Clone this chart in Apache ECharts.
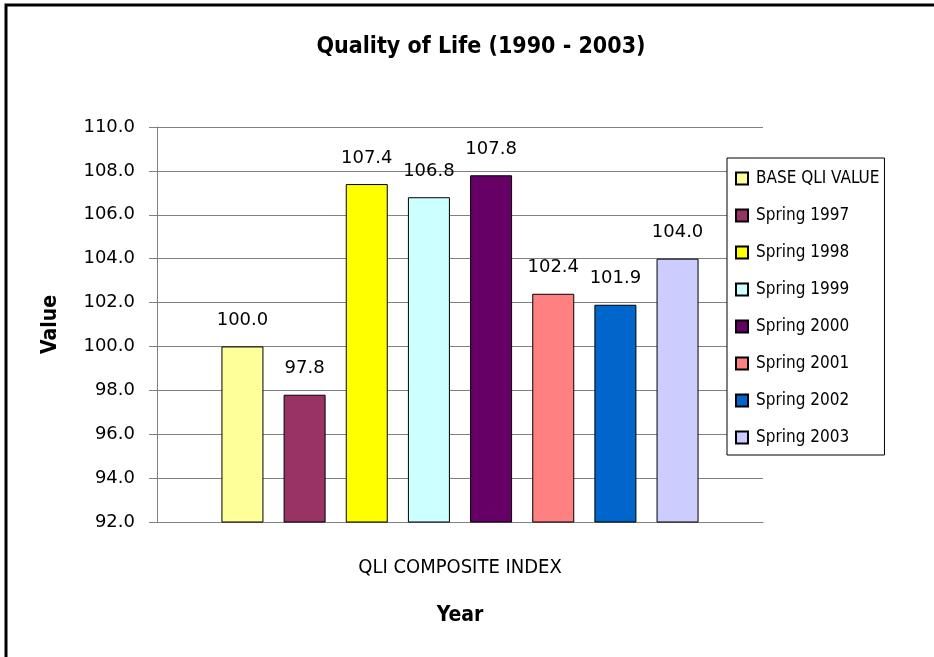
<!DOCTYPE html>
<html><head><meta charset="utf-8">
<script src="https://cdn.jsdelivr.net/npm/echarts@6/dist/echarts.min.js"></script>
<style>html,body{margin:0;padding:0;background:#fff}#c{width:934px;height:657px}</style>
</head><body><div id="c"></div>
<script>
const categories = ['QLI COMPOSITE INDEX'];
const seriesNames = ['BASE QLI VALUE','Spring 1997','Spring 1998','Spring 1999','Spring 2000','Spring 2001','Spring 2002','Spring 2003'];
const seriesValues = [100.0, 97.8, 107.4, 106.8, 107.8, 102.4, 101.9, 104.0];
const seriesColors = ['#FFFF99','#993366','#FFFF00','#CCFFFF','#660066','#FF8080','#0066CC','#CCCCFF'];
const yTicks = {min: 92, max: 110, interval: 2};

const font = "'DejaVu Sans', 'Noto Sans', sans-serif";
const condFont = "'DejaVu Sans Condensed', 'Liberation Sans Narrow', sans-serif";

const chart = echarts.init(document.getElementById('c'));
chart.setOption({
  animation: false,
  backgroundColor: '#fff',
  title: {
    text: 'Quality of Life (1990 - 2003)',
    left: 476, top: 31, textAlign: 'center',
    textStyle: {fontFamily: condFont, fontSize: 23, fontWeight: 'bold', color: '#000'}
  },
  graphic: [{
    type: 'rect', shape: {x: 6, y: 5, width: 1000, height: 1000},
    style: {fill: 'none', stroke: '#000', lineWidth: 3}, silent: true
  }],
  legend: {
    orient: 'vertical', left: 727, top: 158,
    padding: [12, 5, 9, 8],
    itemGap: 20,
    itemWidth: 12, itemHeight: 12,
    backgroundColor: '#fff',
    borderColor: '#000', borderWidth: 1,
    icon: 'rect',
    textStyle: {fontFamily: condFont, fontSize: 17, color: '#000', padding: [0, 0, 0, 3]},
    data: seriesNames
  },
  grid: {left: 157, right: 171, top: 127, bottom: 135},
  xAxis: {
    type: 'category', data: categories,
    name: 'Year', nameLocation: 'middle', nameGap: 83,
    nameTextStyle: {fontFamily: condFont, fontSize: 21, fontWeight: 'bold', color: '#000'},
    axisLine: {lineStyle: {color: '#808080', width: 1}},
    axisTick: {show: false},
    axisLabel: {margin: 36, fontFamily: condFont, fontSize: 20, color: '#000'}
  },
  yAxis: {
    type: 'value', min: yTicks.min, max: yTicks.max, interval: yTicks.interval,
    name: 'Value', nameLocation: 'middle', nameGap: 96,
    nameTextStyle: {fontFamily: condFont, fontSize: 21, fontWeight: 'bold', color: '#000'},
    axisLine: {show: true, lineStyle: {color: '#808080', width: 1}},
    axisTick: {show: true, length: 8, inside: false, lineStyle: {color: '#808080'}},
    splitLine: {show: true, lineStyle: {color: '#808080', width: 1}},
    axisLabel: {margin: 22, fontFamily: font, fontSize: 18, color: '#000',
      formatter: v => v.toFixed(1)}
  },
  series: seriesNames.map((n, i) => ({
    name: n, type: 'bar',
    data: [seriesValues[i]],
    barWidth: 42,
    barGap: '48%',
    itemStyle: {color: seriesColors[i], borderColor: '#000', borderWidth: 1},
    label: {show: true, position: 'top', distance: 17, fontFamily: font, fontSize: 18, color: '#000',
      formatter: p => p.value.toFixed(1)}
  }))
});
</script></body></html>
